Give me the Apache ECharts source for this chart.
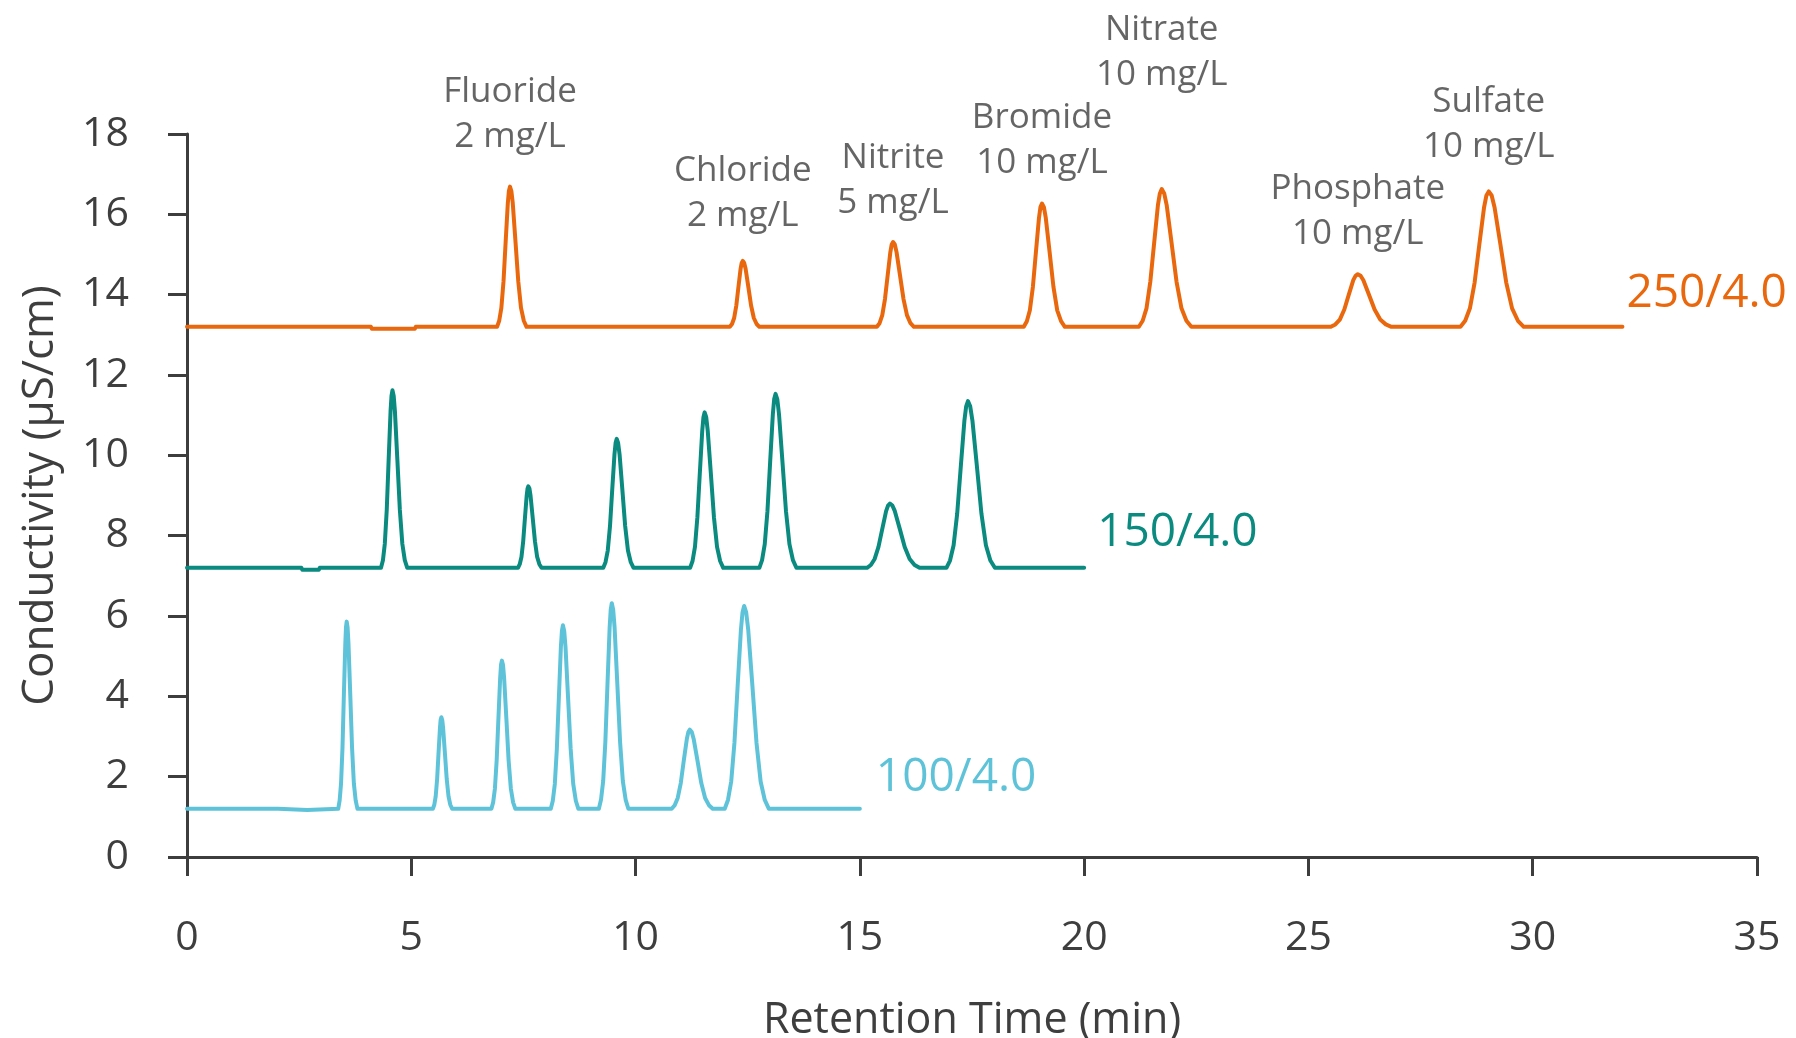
<!DOCTYPE html>
<html>
<head>
<meta charset="utf-8">
<script src="https://cdn.jsdelivr.net/npm/echarts@6/dist/echarts.min.js"></script>
<style>
  html, body { margin: 0; padding: 0; background: #ffffff; }
  #chart { width: 1796px; height: 1038px; }
</style>
</head>
<body>
<div id="chart"></div>
<script>
// ---------------- DATA ----------------
const xTicks = [0, 5, 10, 15, 20, 25, 30, 35];
const yTicks = [0, 2, 4, 6, 8, 10, 12, 14, 16, 18];

const seriesNames = ['250/4.0', '150/4.0', '100/4.0'];

// [retention time (min), conductivity (µS/cm)]
const trace250 = [
  [0, 13.2], [4.10, 13.2], [4.12, 13.15], [5.08, 13.15], [5.10, 13.2],
  [6.912, 13.2], [6.96, 13.35], [7.008, 13.67], [7.056, 14.33], [7.104, 15.32], [7.152, 16.28], [7.176, 16.58], [7.20, 16.69],
  [7.231, 16.58], [7.262, 16.28], [7.323, 15.32], [7.385, 14.33], [7.446, 13.67], [7.508, 13.35], [7.569, 13.2],
  [12.102, 13.2], [12.15, 13.27], [12.198, 13.42], [12.246, 13.73], [12.294, 14.20], [12.342, 14.65], [12.366, 14.79], [12.39, 14.84],
  [12.421, 14.79], [12.452, 14.65], [12.513, 14.20], [12.575, 13.73], [12.636, 13.42], [12.698, 13.27], [12.759, 13.2],
  [15.38, 13.2], [15.44, 13.29], [15.50, 13.49], [15.56, 13.89], [15.62, 14.48], [15.68, 15.06], [15.71, 15.25], [15.74, 15.31],
  [15.779, 15.25], [15.818, 15.06], [15.895, 14.48], [15.973, 13.89], [16.05, 13.49], [16.128, 13.29], [16.205, 13.2],
  [18.655, 13.2], [18.723, 13.34], [18.79, 13.61], [18.858, 14.20], [18.925, 15.06], [18.993, 15.91], [19.026, 16.18], [19.06, 16.27],
  [19.103, 16.18], [19.145, 15.91], [19.23, 15.06], [19.315, 14.20], [19.40, 13.61], [19.485, 13.34], [19.57, 13.2],
  [21.22, 13.2], [21.305, 13.35], [21.39, 13.66], [21.475, 14.32], [21.56, 15.28], [21.645, 16.23], [21.688, 16.52], [21.73, 16.63],
  [21.785, 16.52], [21.84, 16.23], [21.95, 15.28], [22.06, 14.32], [22.17, 13.66], [22.28, 13.35], [22.39, 13.2],
  [25.50, 13.2], [25.60, 13.26], [25.70, 13.38], [25.80, 13.63], [25.90, 14.00], [26.00, 14.36], [26.05, 14.47], [26.10, 14.51],
  [26.163, 14.47], [26.225, 14.36], [26.35, 14.00], [26.475, 13.63], [26.60, 13.38], [26.725, 13.26], [26.85, 13.2],
  [28.39, 13.2], [28.495, 13.35], [28.60, 13.66], [28.705, 14.30], [28.81, 15.25], [28.915, 16.17], [28.968, 16.47], [29.02, 16.57],
  [29.085, 16.47], [29.15, 16.17], [29.28, 15.25], [29.41, 14.30], [29.54, 13.66], [29.67, 13.35], [29.80, 13.2],
  [32, 13.2]
];

const trace150 = [
  [0, 7.2], [2.55, 7.2], [2.57, 7.15], [2.94, 7.15], [2.96, 7.2],
  [4.325, 7.2], [4.368, 7.39], [4.41, 7.80], [4.453, 8.64], [4.495, 9.88], [4.538, 11.10], [4.559, 11.48], [4.58, 11.62],
  [4.608, 11.48], [4.635, 11.10], [4.69, 9.88], [4.745, 8.64], [4.80, 7.80], [4.855, 7.39], [4.91, 7.2],
  [7.379, 7.2], [7.418, 7.29], [7.456, 7.47], [7.495, 7.86], [7.533, 8.43], [7.572, 8.99], [7.591, 9.17], [7.61, 9.23],
  [7.635, 9.17], [7.659, 8.99], [7.708, 8.43], [7.757, 7.86], [7.806, 7.47], [7.855, 7.29], [7.904, 7.2],
  [9.28, 7.2], [9.33, 7.34], [9.38, 7.63], [9.43, 8.24], [9.48, 9.15], [9.53, 10.03], [9.555, 10.31], [9.58, 10.41],
  [9.611, 10.31], [9.643, 10.03], [9.705, 9.15], [9.768, 8.24], [9.83, 7.63], [9.893, 7.34], [9.955, 7.2],
  [11.216, 7.2], [11.27, 7.37], [11.324, 7.72], [11.378, 8.46], [11.432, 9.55], [11.486, 10.61], [11.513, 10.95], [11.54, 11.07],
  [11.575, 10.95], [11.609, 10.61], [11.678, 9.55], [11.747, 8.46], [11.816, 7.72], [11.885, 7.37], [11.954, 7.2],
  [12.76, 7.2], [12.82, 7.39], [12.88, 7.79], [12.94, 8.61], [13.00, 9.83], [13.06, 11.02], [13.09, 11.40], [13.12, 11.53],
  [13.159, 11.40], [13.198, 11.02], [13.275, 9.83], [13.353, 8.61], [13.43, 7.79], [13.508, 7.39], [13.585, 7.2],
  [15.16, 7.2], [15.245, 7.27], [15.33, 7.42], [15.415, 7.72], [15.50, 8.17], [15.585, 8.61], [15.628, 8.75], [15.67, 8.80],
  [15.725, 8.75], [15.78, 8.61], [15.89, 8.17], [16.00, 7.72], [16.11, 7.42], [16.22, 7.27], [16.33, 7.2],
  [16.93, 7.2], [17.01, 7.38], [17.09, 7.76], [17.17, 8.55], [17.25, 9.72], [17.33, 10.86], [17.37, 11.22], [17.41, 11.35],
  [17.46, 11.22], [17.51, 10.86], [17.61, 9.72], [17.71, 8.55], [17.81, 7.76], [17.91, 7.38], [18.01, 7.2],
  [20, 7.2]
];

const trace100 = [
  [0, 1.2], [2.03, 1.2], [2.05, 1.17], [2.68, 1.17], [2.70, 1.2],
  [3.371, 1.2], [3.403, 1.41], [3.434, 1.83], [3.466, 2.71], [3.497, 4.03], [3.529, 5.31], [3.544, 5.72], [3.56, 5.86],
  [3.58, 5.72], [3.60, 5.31], [3.64, 4.03], [3.68, 2.71], [3.72, 1.83], [3.76, 1.41], [3.80, 1.2],
  [5.481, 1.2], [5.513, 1.30], [5.544, 1.51], [5.576, 1.94], [5.607, 2.58], [5.639, 3.21], [5.654, 3.41], [5.67, 3.48],
  [5.69, 3.41], [5.71, 3.21], [5.75, 2.58], [5.79, 1.94], [5.83, 1.51], [5.87, 1.30], [5.91, 1.2],
  [6.786, 1.2], [6.825, 1.36], [6.864, 1.70], [6.903, 2.40], [6.942, 3.44], [6.981, 4.45], [7.00, 4.78], [7.02, 4.89],
  [7.045, 4.78], [7.07, 4.45], [7.12, 3.44], [7.17, 2.40], [7.22, 1.70], [7.27, 1.36], [7.32, 1.2],
  [8.11, 1.2], [8.155, 1.40], [8.20, 1.82], [8.245, 2.69], [8.29, 3.97], [8.335, 5.23], [8.358, 5.63], [8.38, 5.77],
  [8.409, 5.63], [8.438, 5.23], [8.495, 3.97], [8.553, 2.69], [8.61, 1.82], [8.668, 1.40], [8.725, 1.2],
  [9.182, 1.2], [9.23, 1.43], [9.278, 1.89], [9.326, 2.86], [9.374, 4.31], [9.422, 5.72], [9.446, 6.16], [9.47, 6.32],
  [9.501, 6.16], [9.532, 5.72], [9.593, 4.31], [9.655, 2.86], [9.716, 1.89], [9.778, 1.43], [9.839, 1.2],
  [10.805, 1.2], [10.873, 1.29], [10.94, 1.47], [11.008, 1.84], [11.075, 2.40], [11.143, 2.94], [11.176, 3.11], [11.21, 3.17],
  [11.253, 3.11], [11.295, 2.94], [11.38, 2.40], [11.465, 1.84], [11.55, 1.47], [11.635, 1.29], [11.72, 1.2],
  [11.988, 1.2], [12.06, 1.42], [12.132, 1.88], [12.204, 2.84], [12.276, 4.27], [12.348, 5.65], [12.384, 6.09], [12.42, 6.25],
  [12.466, 6.09], [12.512, 5.65], [12.604, 4.27], [12.696, 2.84], [12.788, 1.88], [12.88, 1.42], [12.972, 1.2],
  [15, 1.2]
];

// peak annotations (anchored on the 250/4.0 apexes)
const analyteNames = ['Fluoride', 'Chloride', 'Nitrite', 'Bromide', 'Nitrate', 'Phosphate', 'Sulfate'];
const analyteConc = ['2 mg/L', '2 mg/L', '5 mg/L', '10 mg/L', '10 mg/L', '10 mg/L', '10 mg/L'];
const apexTimes = [7.20, 12.39, 15.74, 19.06, 21.73, 26.10, 29.02];
const apexValues = [16.69, 14.84, 15.31, 16.27, 16.63, 14.51, 16.57];

// ---------------- STYLE ----------------
const FONT = "'Open Sans', 'Noto Sans', sans-serif";
const colors = ['#E9680E', '#0B8B80', '#5EC3D8'];
const endLabelOffsets = [[-1, -33], [8, -35], [11, -31]];
const labelYOffsets = [-72, -67, -62, -63, -136, -63, -67];
const axisColor = '#3d3d3d';
const textColor = '#3e3e3e';

const chart = echarts.init(document.getElementById('chart'), null, { renderer: 'canvas' });

function lineSeries(name, data, color, endOffset) {
  return {
    type: 'line',
    name: name,
    data: data,
    showSymbol: false,
    symbol: 'none',
    smooth: false,
    clip: false,
    lineStyle: { color: color, width: 4, join: 'round', cap: 'round' },
    endLabel: {
      show: true,
      formatter: name,
      color: color,
      fontFamily: FONT,
      fontSize: 46,
      distance: 5,
      offset: endOffset
    },
    emphasis: { disabled: true },
    z: 3
  };
}

const annotationData = apexTimes.map((t, i) => ({
  value: [t, apexValues[i]],
  label: { offset: [0, labelYOffsets[i]] }
}));

const option = {
  animation: false,
  backgroundColor: '#ffffff',
  grid: { left: 187, right: 39, top: 134, bottom: 181, containLabel: false, outerBoundsMode: 'none' },
  xAxis: {
    type: 'value',
    min: xTicks[0],
    max: xTicks[xTicks.length - 1],
    interval: 5,
    name: 'Retention Time (min)',
    nameLocation: 'middle',
    nameGap: 142,
    nameTextStyle: { fontFamily: FONT, fontSize: 43, color: textColor },
    axisLine: { show: true, onZero: false, lineStyle: { color: axisColor, width: 3 } },
    axisTick: { show: true, length: 19, lineStyle: { color: axisColor, width: 3 } },
    axisLabel: { fontFamily: FONT, fontSize: 41, color: '#3e3e3e', margin: 61 },
    splitLine: { show: false }
  },
  yAxis: {
    type: 'value',
    min: yTicks[0],
    max: yTicks[yTicks.length - 1],
    interval: 2,
    name: 'Conductivity (µS/cm)',
    nameLocation: 'middle',
    nameRotate: 90,
    nameGap: 125,
    nameTextStyle: { fontFamily: FONT, fontSize: 44, color: textColor },
    axisLine: { show: true, onZero: false, lineStyle: { color: axisColor, width: 3 } },
    axisTick: { show: true, length: 19, lineStyle: { color: axisColor, width: 3 } },
    axisLabel: { fontFamily: FONT, fontSize: 41, color: '#3e3e3e', margin: 58 },
    splitLine: { show: false }
  },
  series: [
    lineSeries(seriesNames[0], trace250, colors[0], endLabelOffsets[0]),
    lineSeries(seriesNames[1], trace150, colors[1], endLabelOffsets[1]),
    lineSeries(seriesNames[2], trace100, colors[2], endLabelOffsets[2]),
    {
      type: 'scatter',
      data: annotationData,
      symbolSize: 1,
      clip: false,
      silent: true,
      itemStyle: { color: 'rgba(0,0,0,0)' },
      label: {
        show: true,
        position: 'inside',
        formatter: (p) => analyteNames[p.dataIndex] + '\n' + analyteConc[p.dataIndex],
        fontFamily: FONT,
        fontSize: 35,
        lineHeight: 45,
        color: textColor,
        align: 'center',
        verticalAlign: 'middle'
      },
      z: 5
    }
  ]
};

chart.setOption(option);
</script>
</body>
</html>
